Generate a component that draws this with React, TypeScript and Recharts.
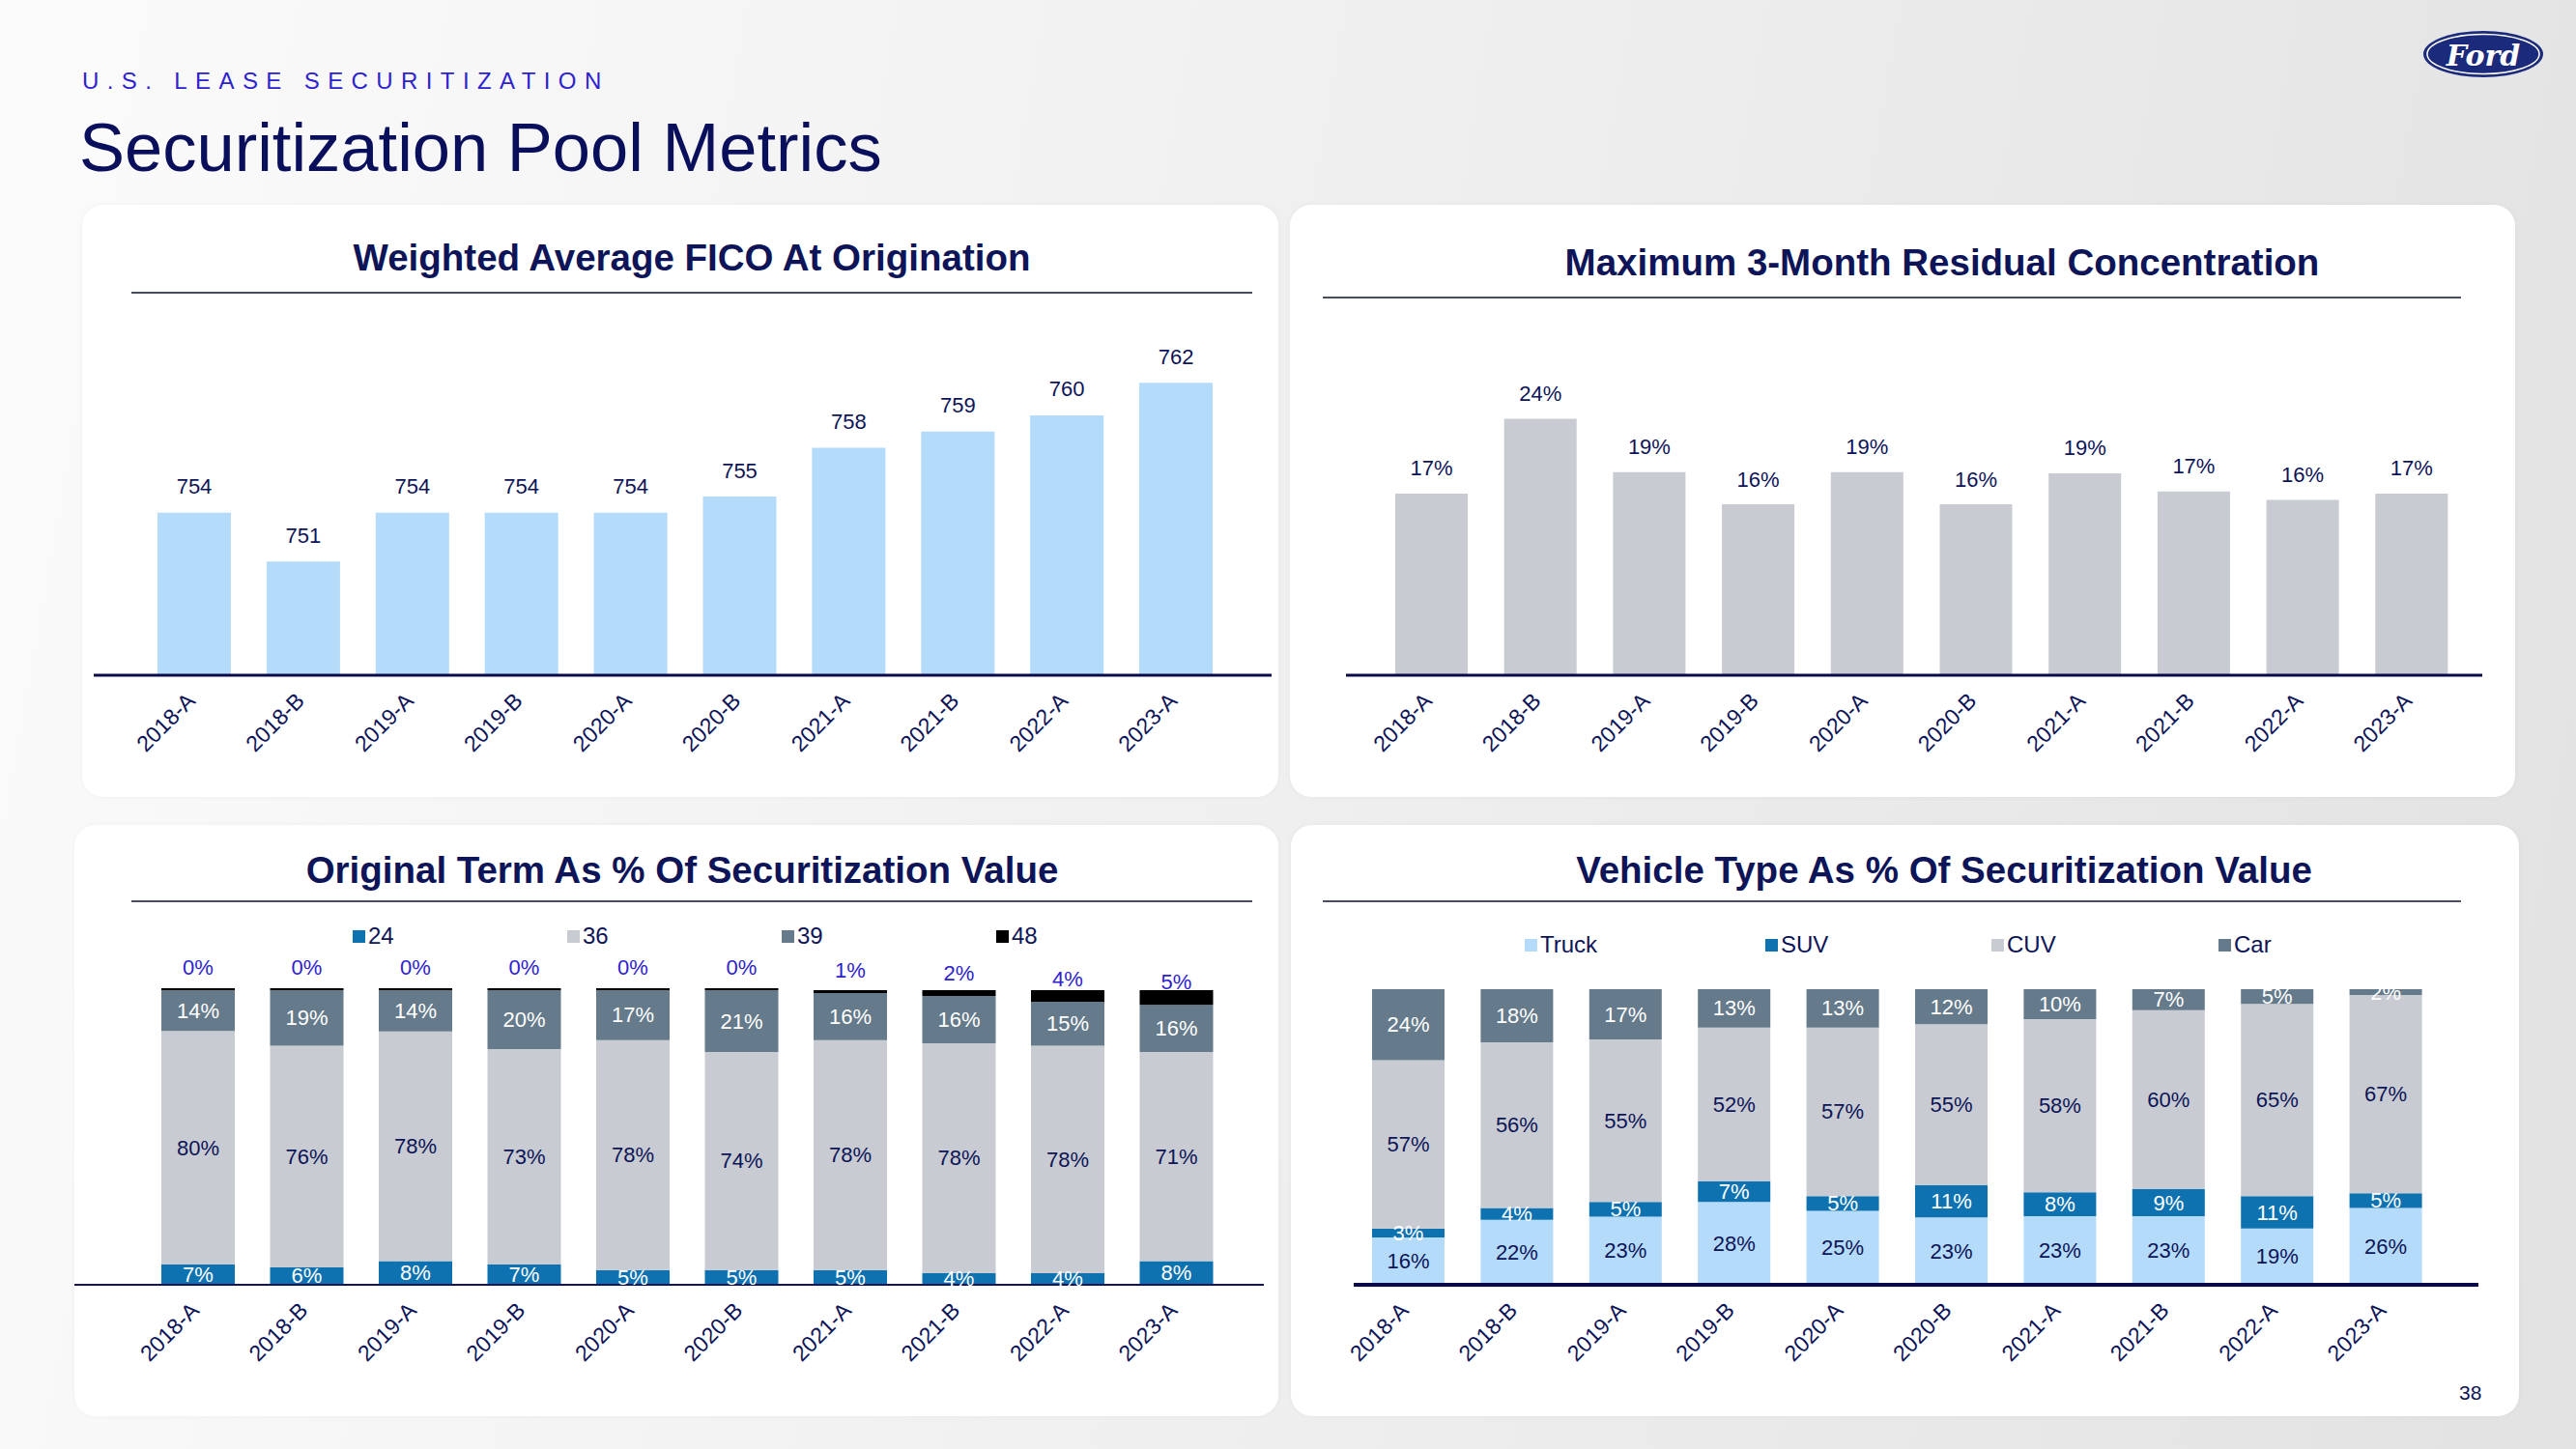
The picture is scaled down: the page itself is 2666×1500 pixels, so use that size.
import React from "react";
import { BarChart, Bar, XAxis, YAxis, LabelList } from "recharts";

const DEALS = ["2018-A", "2018-B", "2019-A", "2019-B", "2020-A", "2020-B", "2021-A", "2021-B", "2022-A", "2023-A"];

const FICO = [754, 751, 754, 754, 754, 755, 758, 759, 760, 762];
const RESIDUAL = [17, 24, 19, 16, 19, 16, 18.9, 17.2, 16.4, 17];

const TERM_NAMES = ["24", "36", "39", "48"];
const TERM_24 = [7, 6, 8, 7, 5, 5, 5, 4, 4, 8];
const TERM_36 = [80, 76, 78, 73, 78, 74, 78, 78, 78, 71];
const TERM_39 = [14, 19, 14, 20, 17, 21, 16, 16, 15, 16];
const TERM_48 = [0, 0, 0, 0, 0, 0, 1, 2, 4, 5];

const VEHICLE_NAMES = ["Truck", "SUV", "CUV", "Car"];
const TRUCK = [16, 22, 23, 28, 25, 23, 23, 23, 19, 26];
const SUV = [3, 4, 5, 7, 5, 11, 8, 9, 11, 5];
const CUV = [57, 56, 55, 52, 57, 55, 58, 60, 65, 67];
const CAR = [24, 18, 17, 13, 13, 12, 10, 7, 5, 2];

const FONT = "'Liberation Sans', Arial, sans-serif";
const NAVY = "#0d1457";
const BLUE_TXT = "#2e22cf";
const LIGHT_BLUE = "#b4dbfa";
const MID_BLUE = "#0e72b0";
const GRAY = "#c8ccd2";
const SLATE = "#657a8a";

const ficoRows = DEALS.map((name, i) => ({ name, fico: FICO[i] }));
const residualRows = DEALS.map((name, i) => ({ name, residual: RESIDUAL[i] }));
const termRows = DEALS.map((name, i) => ({
  name,
  t24: TERM_24[i],
  t36: TERM_36[i],
  t39: TERM_39[i],
  t48: TERM_48[i],
}));
const vehicleRows = DEALS.map((name, i) => ({
  name,
  truck: TRUCK[i],
  suv: SUV[i],
  cuv: CUV[i],
  car: CAR[i],
}));

const box = (p: any) =>
  p.viewBox && p.viewBox.width !== undefined ? p.viewBox : p;

const centerLabel = (color: string) => (p: any) => {
  const { x, y, width, height } = box(p);
  return (
    <text
      x={x + width / 2}
      y={y + height / 2}
      fill={color}
      fontSize={22}
      fontFamily={FONT}
      textAnchor="middle"
      dominantBaseline="central"
    >
      {Math.round(p.value)}%
    </text>
  );
};

const topLabel = (suffix: string, lift: number) => (p: any) => {
  const { x, y, width } = box(p);
  return (
    <text
      x={x + width / 2}
      y={y - lift}
      fill={NAVY}
      fontSize={22}
      fontFamily={FONT}
      textAnchor="middle"
      dominantBaseline="central"
    >
      {Math.round(p.value)}
      {suffix}
    </text>
  );
};

// 48-month share sits just above its (thin) segment
const aboveLabel = (p: any) => {
  const { x, y, width, height } = box(p);
  return (
    <text
      x={x + width / 2}
      y={y + height - 24}
      fill={BLUE_TXT}
      fontSize={22}
      fontFamily={FONT}
      textAnchor="middle"
      dominantBaseline="central"
    >
      {p.value}%
    </text>
  );
};

const AngledTick = (props: any) => {
  const { x, y, payload } = props;
  const ax = x + 2;
  const ay = y + 20;
  return (
    <text
      x={ax}
      y={ay}
      transform={`rotate(-45 ${ax} ${ay})`}
      textAnchor="end"
      fill={NAVY}
      fontSize={23}
      fontFamily={FONT}
    >
      {payload.value}
    </text>
  );
};

const Panel = ({ left, top, width, height }: any) => (
  <div
    style={{
      position: "absolute",
      left,
      top,
      width,
      height,
      background: "#fff",
      borderRadius: 22,
      boxShadow: "0 0 6px rgba(0,0,0,0.04)",
    }}
  />
);

const Title = ({ text, cx, cy, lineY, x1, x2 }: any) => (
  <>
    <div
      style={{
        position: "absolute",
        left: cx - 700,
        width: 1400,
        top: cy - 22,
        height: 44,
        lineHeight: "44px",
        textAlign: "center",
        fontFamily: FONT,
        fontWeight: "bold",
        fontSize: 38.5,
        color: NAVY,
      }}
    >
      {text}
    </div>
    <div
      style={{
        position: "absolute",
        left: x1,
        width: x2 - x1,
        top: lineY,
        height: 1.5,
        background: "#4a4d5e",
      }}
    />
  </>
);

const LegendRow = ({ names, colors, xs, cy }: any) => (
  <>
    {names.map((n: string, i: number) => (
      <div
        key={n}
        style={{
          position: "absolute",
          left: xs[i],
          top: cy - 14,
          height: 28,
          display: "flex",
          alignItems: "center",
          fontFamily: FONT,
          fontSize: 24,
          color: NAVY,
        }}
      >
        <span
          style={{
            display: "inline-block",
            width: 13,
            height: 13,
            background: colors[i],
            marginRight: 3,
          }}
        />
        {n}
      </div>
    ))}
  </>
);

const abs = (left: number, top: number): React.CSSProperties => ({
  position: "absolute",
  left,
  top,
});

export default function App() {
  return (
    <div
      style={{
        position: "absolute",
        left: 0,
        top: 0,
        width: 2666,
        height: 1500,
        overflow: "hidden",
        background: "linear-gradient(100deg, #fbfbfb 0%, #eeeeee 55%, #e2e2e2 100%)",
        fontFamily: FONT,
      }}
    >
      {/* Header */}
      <div
        style={{
          position: "absolute",
          left: 85,
          top: 70,
          fontSize: 24,
          letterSpacing: 8.4,
          color: BLUE_TXT,
        }}
      >
        U.S. LEASE SECURITIZATION
      </div>
      <div
        style={{
          position: "absolute",
          left: 82,
          top: 113,
          fontSize: 70.5,
          color: "#0a0f5c",
          lineHeight: "80px",
        }}
      >
        Securitization Pool Metrics
      </div>

      {/* Ford logo */}
      <svg style={abs(2500, 26)} width={140} height={60}>
        <ellipse cx={70} cy={30} rx={62} ry={24} fill="#1b2a7a" />
        <ellipse cx={70} cy={30} rx={58} ry={20.5} fill="none" stroke="#fff" strokeWidth={1.5} />
        <text
          x={70}
          y={31}
          fill="#fff"
          fontSize={30}
          fontStyle="italic"
          fontWeight="bold"
          fontFamily="'DejaVu Serif', serif"
          textAnchor="middle"
          dominantBaseline="central"
        >
          Ford
        </text>
      </svg>

      <Panel left={85} top={212} width={1238} height={613} />
      <Panel left={1335} top={212} width={1268} height={613} />
      <Panel left={77} top={854} width={1246} height={612} />
      <Panel left={1336} top={854} width={1271} height={612} />

      {/* FICO */}
      <Title text="Weighted Average FICO At Origination" cx={716} cy={267} lineY={302} x1={136} x2={1296} />
      <div style={abs(85, 212)}>
        <BarChart width={1238} height={613} data={ficoRows} margin={{ top: 117, right: 7, left: 12, bottom: 26 }}>
          <XAxis
            dataKey="name"
            interval={0}
            height={100}
            tickLine={false}
            axisLine={{ stroke: "#0a0a4a", strokeWidth: 3 }}
            padding={{ left: 48, right: 42 }}
            tick={(p: any) => <AngledTick {...p} />}
          />
          <YAxis hide domain={[744, 766]} />
          <Bar dataKey="fico" fill={LIGHT_BLUE} barSize={76} isAnimationActive={false}>
            <LabelList dataKey="fico" content={topLabel("", 27)} />
          </Bar>
        </BarChart>
      </div>

      {/* Residual */}
      <Title text="Maximum 3-Month Residual Concentration" cx={2010} cy={272} lineY={307} x1={1369} x2={2547} />
      <div style={abs(1335, 212)}>
        <BarChart width={1268} height={613} data={residualRows} margin={{ top: 122, right: 34, left: 58, bottom: 26 }}>
          <XAxis
            dataKey="name"
            interval={0}
            height={100}
            tickLine={false}
            axisLine={{ stroke: "#0a0a4a", strokeWidth: 3 }}
            padding={{ left: 32, right: 17 }}
            tick={(p: any) => <AngledTick {...p} />}
          />
          <YAxis hide domain={[0, 33]} />
          <Bar dataKey="residual" fill="#c8cbd1" barSize={75} isAnimationActive={false}>
            <LabelList dataKey="residual" content={topLabel("%", 26)} />
          </Bar>
        </BarChart>
      </div>

      {/* Original term */}
      <Title text="Original Term As % Of Securitization Value" cx={706} cy={901} lineY={932} x1={136} x2={1296} />
      <LegendRow names={TERM_NAMES} colors={[MID_BLUE, GRAY, SLATE, "#000"]} xs={[365, 587, 809, 1031]} cy={969} />
      <div style={abs(77, 854)}>
        <BarChart
          width={1246}
          height={612}
          data={termRows}
          stackOffset="expand"
          margin={{ top: 171, right: 15, left: 0, bottom: 36 }}
        >
          <XAxis
            dataKey="name"
            interval={0}
            height={100}
            tickLine={false}
            axisLine={{ stroke: "#14145a", strokeWidth: 2 }}
            padding={{ left: 72, right: 34 }}
            tick={(p: any) => <AngledTick {...p} />}
          />
          <YAxis hide />
          <Bar dataKey="t24" name="24" stackId="a" fill={MID_BLUE} barSize={76} isAnimationActive={false}>
            <LabelList dataKey="t24" content={centerLabel("#ffffff")} />
          </Bar>
          <Bar dataKey="t36" name="36" stackId="a" fill={GRAY} barSize={76} isAnimationActive={false}>
            <LabelList dataKey="t36" content={centerLabel(NAVY)} />
          </Bar>
          <Bar dataKey="t39" name="39" stackId="a" fill={SLATE} barSize={76} isAnimationActive={false}>
            <LabelList dataKey="t39" content={centerLabel("#ffffff")} />
          </Bar>
          <Bar
            dataKey="t48"
            name="48"
            stackId="a"
            fill="#000"
            barSize={76}
            minPointSize={2}
            isAnimationActive={false}
          >
            <LabelList dataKey="t48" content={aboveLabel} />
          </Bar>
        </BarChart>
      </div>

      {/* Vehicle type */}
      <Title text="Vehicle Type As % Of Securitization Value" cx={2012} cy={901} lineY={932} x1={1369} x2={2547} />
      <LegendRow names={VEHICLE_NAMES} colors={[LIGHT_BLUE, MID_BLUE, GRAY, SLATE]} xs={[1578, 1827, 2061, 2296]} cy={978} />
      <div style={abs(1336, 854)}>
        <BarChart
          width={1271}
          height={612}
          data={vehicleRows}
          stackOffset="expand"
          margin={{ top: 170, right: 42, left: 65, bottom: 36 }}
        >
          <XAxis
            dataKey="name"
            interval={0}
            height={100}
            tickLine={false}
            axisLine={{ stroke: "#0a0a4a", strokeWidth: 4 }}
            padding={{ left: 0, right: 40 }}
            tick={(p: any) => <AngledTick {...p} />}
          />
          <YAxis hide />
          <Bar dataKey="truck" name="Truck" stackId="v" fill={LIGHT_BLUE} barSize={75} isAnimationActive={false}>
            <LabelList dataKey="truck" content={centerLabel(NAVY)} />
          </Bar>
          <Bar dataKey="suv" name="SUV" stackId="v" fill={MID_BLUE} barSize={75} isAnimationActive={false}>
            <LabelList dataKey="suv" content={centerLabel("#ffffff")} />
          </Bar>
          <Bar dataKey="cuv" name="CUV" stackId="v" fill={GRAY} barSize={75} isAnimationActive={false}>
            <LabelList dataKey="cuv" content={centerLabel(NAVY)} />
          </Bar>
          <Bar dataKey="car" name="Car" stackId="v" fill={SLATE} barSize={75} isAnimationActive={false}>
            <LabelList dataKey="car" content={centerLabel("#ffffff")} />
          </Bar>
        </BarChart>
      </div>

      <div style={{ position: "absolute", left: 2545, top: 1430, fontSize: 21, color: NAVY }}>38</div>
    </div>
  );
}
